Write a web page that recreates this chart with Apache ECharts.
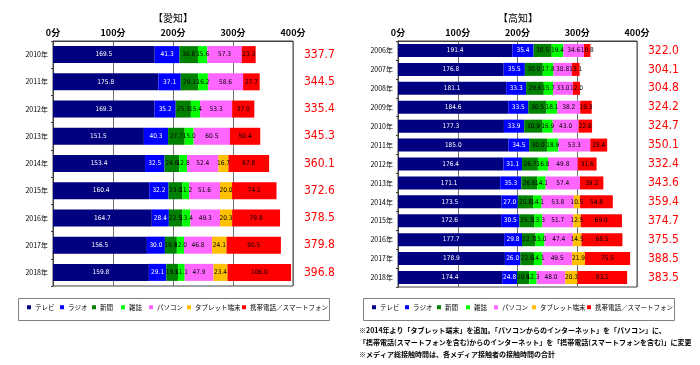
<!DOCTYPE html>
<html><head><meta charset="utf-8">
<script src="https://cdn.jsdelivr.net/npm/echarts@6/dist/echarts.min.js"></script>
<style>html,body{margin:0;padding:0;background:#fff}#c{width:700px;height:365px}</style>
</head><body><div id="c"></div>
<script>
const seriesNames = ['テレビ','ラジオ','新聞','雑誌','パソコン','タブレット端末','携帯電話／スマートフォン'];
const seriesColors = ['#000080','#0000FF','#008000','#00FF00','#FF66FF','#FFC000','#FF0000'];
const tickLabels = ['0分','100分','200分','300分','400分'];

const aichiYears = ['2010年','2011年','2012年','2013年','2014年','2015年','2016年','2017年','2018年'];
const aichiTV     = [169.5,175.8,169.3,151.5,153.4,160.4,164.7,156.5,159.8];
const aichiRadio  = [41.3,37.1,35.2,40.3,32.5,32.2,28.4,30.0,29.1];
const aichiNews   = [30.8,29.1,25.3,27.7,24.6,23.0,22.5,19.9,19.5];
const aichiMag    = [15.6,16.2,15.4,15.0,12.8,11.2,13.4,12.0,11.1];
const aichiPC     = [57.3,58.6,53.3,60.5,52.4,51.6,49.3,46.8,47.9];
const aichiTablet = [null,null,null,null,16.7,20.0,20.3,24.1,23.4];
const aichiMobile = [23.3,27.7,37.0,50.4,67.8,74.1,79.8,90.5,106.0];
const aichiTotal  = ['337.7','344.5','335.4','345.3','360.1','372.6','378.5','379.8','396.8'];

const kochiYears = ['2006年','2007年','2008年','2009年','2010年','2011年','2012年','2013年','2014年','2015年','2016年','2017年','2018年'];
const kochiTV     = [191.4,176.8,181.1,184.6,177.3,185.0,176.4,171.1,173.5,172.6,177.7,178.9,174.4];
const kochiRadio  = [35.4,35.5,33.3,33.5,33.9,34.5,31.1,35.3,27.0,30.5,29.8,26.0,24.8];
const kochiNews   = [30.5,30.0,29.6,30.5,30.9,30.0,26.7,26.6,25.8,25.2,22.7,22.6,20.6];
const kochiMag    = [19.4,17.8,15.7,18.1,16.9,18.9,16.8,14.1,14.1,13.3,15.0,14.1,12.3];
const kochiPC     = [34.6,30.8,33.0,38.2,43.0,53.3,49.8,57.4,53.8,51.7,47.4,49.5,48.0];
const kochiTablet = [null,null,null,null,null,null,null,null,10.5,12.5,14.5,21.9,20.3];
const kochiMobile = [10.8,13.1,12.0,19.3,22.8,28.4,31.6,39.2,54.8,69.0,68.5,75.5,83.1];
const kochiTotal  = ['322.0','304.1','304.8','324.2','324.7','350.1','332.4','343.6','359.4','374.7','375.5','388.5','383.5'];

const chart = echarts.init(document.getElementById('c'), null, {renderer:'canvas'});
const JP = '"Noto Sans CJK JP", sans-serif';
const NARROW = '"Liberation Sans Narrow", "DejaVu Sans Condensed", "Liberation Sans", sans-serif';

function xAx(gi){
  return {
    gridIndex: gi, type:'value', position:'top', min:0, max:400, interval:100,
    axisLine:{show:true, lineStyle:{color:'#404040'}},
    axisTick:{show:false},
    splitLine:{show:true, lineStyle:{color:'#707070', width:1}},
    axisLabel:{formatter:(v)=>tickLabels[v/100], fontSize:9, fontWeight:'bold', color:'#000', fontFamily:JP, margin:4}
  };
}
function yAxes(gi, years, totals){
  return [{
    gridIndex: gi, type:'category', data: years, inverse:true,
    axisLine:{show:true, lineStyle:{color:'#404040'}},
    axisTick:{show:true, length:2, lineStyle:{color:'#404040'}},
    axisLabel:{fontSize:7, color:'#000', fontFamily:JP, margin:5}
  },{
    gridIndex: gi, type:'category', data: totals, inverse:true, position:'right',
    axisLine:{show:false}, axisTick:{show:false},
    axisLabel:{fontSize:12, color:'#FF0000', fontFamily:NARROW, margin:11}
  }];
}
function mkSeries(gi, arrays, barW){
  return arrays.map((arr,i)=>({
    name: seriesNames[i], type:'bar', stack:'s'+gi, xAxisIndex:gi, yAxisIndex:gi*2,
    data: arr, barWidth: barW,
    itemStyle:{color: seriesColors[i]},
    label:{show:true, position:'inside', fontSize:6.5, fontFamily:NARROW,
      color: i<2 ? '#fff' : '#000',
      formatter:(p)=> p.value==null ? '' : Number(p.value).toFixed(1)},
    emphasis:{disabled:true}, animation:false
  }));
}

const legendCentersL = [29,62,94,123,151,189,244];
const legends = [];
[0,345].forEach(off=>{
  seriesNames.forEach((n,i)=>{
    legends.push({
      left: legendCentersL[i] + off - 2, top: 304, padding:0,
      data:[n], icon:'rect', itemWidth:4, itemHeight:4, itemGap:0, selectedMode:false,
      textStyle:{fontSize:6.5, color:'#000', fontFamily:JP, padding:[0,0,0,-1]}
    });
  });
});

const option = {
  animation:false,
  grid:[
    {left:53, top:41, width:240, height:245, show:true, borderColor:'#404040', borderWidth:1},
    {left:398, top:41, width:239, height:246, show:true, borderColor:'#404040', borderWidth:1}
  ],
  xAxis:[xAx(0), xAx(1)],
  yAxis:[...yAxes(0, aichiYears, aichiTotal), ...yAxes(1, kochiYears, kochiTotal)],
  legend: legends,
  series:[
    ...mkSeries(0, [aichiTV,aichiRadio,aichiNews,aichiMag,aichiPC,aichiTablet,aichiMobile], 17),
    ...mkSeries(1, [kochiTV,kochiRadio,kochiNews,kochiMag,kochiPC,kochiTablet,kochiMobile], 13)
  ],
  graphic:[
    {type:'text', left:'center', x:173, y:18, style:{text:'【愛知】', font:'10px '+JP, fill:'#000', textAlign:'center', textVerticalAlign:'middle'}},
    {type:'text', x:518, y:18, style:{text:'【高知】', font:'10px '+JP, fill:'#000', textAlign:'center', textVerticalAlign:'middle'}},
    {type:'rect', shape:{x:18.5, y:298.5, width:311, height:22}, style:{fill:'none', stroke:'#808080', lineWidth:1}},
    {type:'rect', shape:{x:363.5, y:298.5, width:311, height:22}, style:{fill:'none', stroke:'#808080', lineWidth:1}},
    {type:'text', x:359, y:330, style:{text:'※2014年より「タブレット端末」を追加。「パソコンからのインターネット」を「パソコン」に、', font:'bold 7px '+JP, fill:'#000', textVerticalAlign:'middle'}},
    {type:'text', x:359, y:342, style:{text:'「携帯電話(スマートフォンを含む)からのインターネット」を「携帯電話(スマートフォンを含む)」に変更', font:'bold 7px '+JP, fill:'#000', textVerticalAlign:'middle'}},
    {type:'text', x:359, y:354, style:{text:'※メディア総接触時間は、各メディア接触者の接触時間の合計', font:'bold 7px '+JP, fill:'#000', textVerticalAlign:'middle'}}
  ]
};
// fix first title graphic (no 'left')
delete option.graphic[0].left;
chart.setOption(option);
</script></body></html>
